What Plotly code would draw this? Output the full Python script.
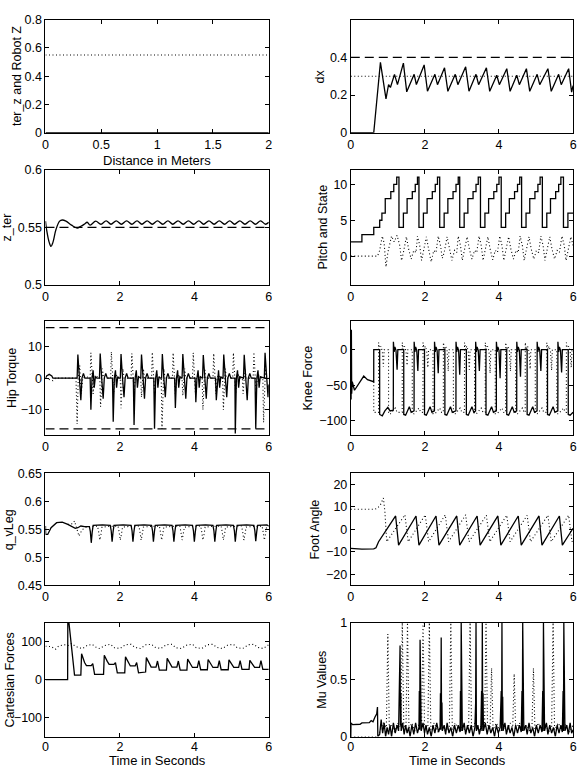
import plotly.graph_objects as go

# ======================= DATA =======================
# Panel 1 : ter_z and Robot Z versus distance
dist_m = [0, 2]
ter_z = [0, 0]
robot_z = [0.55, 0.55]

# Panel 2 : dx
dx_t = [0, 0.62, 0.80, 0.95, 1.02, 1.07, 1.18, 1.26,
        1.42, 1.51, 1.71, 1.77, 1.98, 2.07, 2.27, 2.34,
        2.53, 2.62, 2.82, 2.89, 3.10, 3.19, 3.38, 3.45,
        3.66, 3.75, 3.94, 4.01, 4.21, 4.30, 4.48, 4.55,
        4.74, 4.83, 5.03, 5.10, 5.32, 5.41, 5.61, 5.68,
        5.88, 5.96, 6.0]
dx_v = [0, 0, 0.374, 0.18, 0.256, 0.24, 0.31, 0.255,
        0.37, 0.217, 0.31, 0.256, 0.36, 0.22, 0.31, 0.255,
        0.345, 0.22, 0.31, 0.255, 0.35, 0.22, 0.31, 0.255,
        0.345, 0.22, 0.305, 0.255, 0.34, 0.22, 0.305, 0.255,
        0.34, 0.22, 0.31, 0.255, 0.34, 0.22, 0.31, 0.255,
        0.34, 0.215, 0.25]
dx_line_t = [0, 6]
dx_desired = [0.3, 0.3]
dx_limit = [0.4, 0.4]

# Panel 3 : z_ter
zt_t = [0, 0.03, 0.10, 0.15, 0.20, 0.28, 0.38, 0.45, 0.55, 0.70, 0.85, 0.95,
        1.05, 1.12, 1.20, 1.35, 1.49, 1.63, 1.76, 1.90, 2.04, 2.18, 2.32,
        2.46, 2.59, 2.73, 2.87, 3.01, 3.15, 3.29, 3.42, 3.56, 3.70, 3.84,
        3.98, 4.12, 4.25, 4.39, 4.53, 4.67, 4.81, 4.95, 5.08, 5.22, 5.36,
        5.50, 5.64, 5.78, 5.91, 6.0]
zt_v = [0.5555, 0.548, 0.537, 0.5335, 0.537, 0.548, 0.5555, 0.5565, 0.5555,
        0.552, 0.5495, 0.551, 0.553, 0.5545, 0.552, 0.5555, 0.5528, 0.5557,
        0.5528, 0.5557, 0.5528, 0.5557, 0.5528, 0.5557, 0.5528, 0.5557,
        0.5528, 0.5557, 0.5528, 0.5557, 0.5528, 0.5557, 0.5528, 0.5557,
        0.5528, 0.5557, 0.5528, 0.5557, 0.5528, 0.5557, 0.5528, 0.5557,
        0.5528, 0.5557, 0.5528, 0.5557, 0.5528, 0.5557, 0.5528, 0.5545]
zt_line_t = [0, 6]
zt_ref = [0.55, 0.55]

# Panel 4 : Pitch and State
state_t = [0, 0.30, 0.62, 0.78, 0.84, 0.93, 1.08, 1.16, 1.24,
           1.30, 1.42, 1.52, 1.66, 1.74, 1.80,
           1.84, 1.96, 2.06, 2.20, 2.28, 2.34,
           2.40, 2.52, 2.62, 2.76, 2.84, 2.90,
           2.94, 3.06, 3.16, 3.30, 3.38, 3.44,
           3.50, 3.62, 3.72, 3.86, 3.94, 4.00,
           4.06, 4.18, 4.28, 4.42, 4.50, 4.56,
           4.61, 4.73, 4.83, 4.97, 5.05, 5.11,
           5.17, 5.29, 5.39, 5.53, 5.61, 5.67,
           5.74, 5.86, 6.0]
state_v = [2, 3, 4, 5, 6, 8, 9, 10, 11,
           4, 6, 8, 9, 10, 11,
           4, 6, 8, 9, 10, 11,
           4, 6, 8, 9, 10, 11,
           4, 6, 8, 9, 10, 11,
           4, 6, 8, 9, 10, 11,
           4, 6, 8, 9, 10, 11,
           4, 6, 8, 9, 10, 11,
           4, 6, 8, 9, 10, 11,
           4, 6, 6]
pitch_t = [0, 0.72, 0.78, 0.85, 0.90, 0.95, 1.00, 1.10, 1.17, 1.25,
           1.32, 1.37, 1.42, 1.50, 1.56, 1.63, 1.70, 1.76, 1.80,
           1.86, 1.91, 1.96, 2.04, 2.10, 2.17, 2.24, 2.30, 2.36,
           2.42, 2.47, 2.52, 2.60, 2.66, 2.73, 2.80, 2.86, 2.90,
           2.96, 3.01, 3.06, 3.14, 3.20, 3.27, 3.34, 3.40, 3.46,
           3.52, 3.57, 3.62, 3.70, 3.76, 3.83, 3.90, 3.96, 4.02,
           4.08, 4.13, 4.18, 4.26, 4.32, 4.39, 4.46, 4.52, 4.57,
           4.63, 4.68, 4.73, 4.81, 4.87, 4.94, 5.01, 5.07, 5.13,
           5.19, 5.24, 5.29, 5.37, 5.43, 5.50, 5.57, 5.63, 5.70,
           5.76, 5.81, 5.86, 5.94, 6.0]
pitch_v = [0, 0, 0.8, 2.8, 1.8, -1.5, 0.5, 2.8, 2.0, 2.9,
           1.5, -0.6, 0.5, 2.7, 1.0, -0.4, 0.8, 0.5, 2.8,
           1.5, -0.6, 0.5, 2.7, 1.0, -0.8, 0.8, 0.5, 2.8,
           1.5, -0.3, 0.5, 2.7, 1.0, -0.6, 0.8, 0.5, 2.8,
           1.5, -0.6, 0.5, 2.7, 1.0, -0.4, 0.8, 0.5, 2.8,
           1.5, -0.6, 0.5, 2.7, 1.0, -0.5, 0.8, 0.5, 2.8,
           1.5, -0.6, 0.5, 2.7, 1.0, -0.4, 0.8, 0.5, 2.8,
           1.5, -0.6, 0.5, 2.7, 1.0, -0.4, 0.8, 0.5, 2.8,
           1.5, -0.6, 0.5, 2.7, 1.0, -0.4, 0.8, 0.5, 2.8,
           1.5, -0.6, 0.5, 2.7, 1.5]

# Panel 5 : Hip Torque
hip_s_t = [0, 0.03, 0.10, 0.17, 0.20, 0.85,
           0.87, 0.91, 0.95, 0.98, 1.02, 1.06, 1.20, 1.22, 1.25, 1.28, 1.31, 1.34, 1.38,
           1.45, 1.47, 1.51, 1.55, 1.58, 1.62, 1.66, 1.80, 1.82, 1.85, 1.88, 1.91, 1.94, 1.98,
           2.01, 2.03, 2.07, 2.11, 2.14, 2.18, 2.22, 2.36, 2.38, 2.41, 2.44, 2.47, 2.50, 2.54,
           2.56, 2.58, 2.62, 2.66, 2.69, 2.73, 2.77, 2.91, 2.93, 2.96, 2.99, 3.02, 3.05, 3.09,
           3.12, 3.14, 3.18, 3.22, 3.25, 3.29, 3.33, 3.47, 3.49, 3.52, 3.55, 3.58, 3.61, 3.65,
           3.67, 3.69, 3.73, 3.77, 3.80, 3.84, 3.88, 4.02, 4.04, 4.07, 4.10, 4.13, 4.16, 4.20,
           4.22, 4.24, 4.28, 4.32, 4.35, 4.39, 4.43, 4.57, 4.59, 4.62, 4.65, 4.68, 4.71, 4.75,
           4.77, 4.79, 4.83, 4.87, 4.90, 4.94, 4.98, 5.09, 5.10, 5.13, 5.16, 5.19, 5.22, 5.30,
           5.32, 5.34, 5.38, 5.42, 5.45, 5.49, 5.53, 5.63, 5.65, 5.68, 5.71, 5.74, 5.77, 5.86,
           5.88, 5.90, 5.94, 5.98, 6.0]
hip_s_v = [0, 0.7, 1.2, 0.7, 0, 0,
           7.5, 0, -7, 0, 1.5, 0, 0, -10, 0, 2.5, -3, 0.5, 0,
           0, 7.8, 0, -6.5, 0, 1.5, 0, 0, -13.8, 0, 2.5, -3, 0.5, 0,
           0, 7.6, 0, -6, 0, 1.5, 0, 0, -14.8, 0, 2.5, -3, 0.5, 0,
           0, 7.5, 0, -6.5, 0, 1.5, 0, 0, -16, 0, 2.5, -3, 0.5, 0,
           0, 7.6, 0, -6, 0, 1.5, 0, 0, -9.4, 0, 2.5, -3, 0.5, 0,
           0, 7.6, 0, -6.5, 0, 1.5, 0, 0, -7.6, 0, 2.5, -3, 0.5, 0,
           0, 7.3, 0, -6.5, 0, 1.5, 0, 0, -7, 0, 2.5, -3, 0.5, 0,
           0, 7.5, 0, -6, 0, 1.5, 0, 0, -17.5, 0, 2.5, -3, 0.5, 0,
           0, 7.4, 0, -7, 0, 1.5, 0, 0, -16, 0, 2.5, -3, 0.5, 0,
           0, 8.0, 0, -6, -2]
hip_d_t = [0, 0.10, 0.20, 0.27, 0.82, 0.85, 0.88, 0.92, 0.96, 1.00, 1.08,
           1.20, 1.22, 1.25, 1.28, 1.31, 1.35, 1.42, 1.46, 1.48, 1.51, 1.53, 1.56,
           1.75, 1.77, 1.80, 1.83, 1.86, 1.90, 1.97, 2.01, 2.03, 2.06, 2.08, 2.11,
           2.30, 2.32, 2.35, 2.38, 2.41, 2.45, 2.52, 2.56, 2.58, 2.61, 2.63, 2.66,
           2.85, 2.87, 2.90, 2.93, 2.96, 3.00, 3.07, 3.11, 3.13, 3.16, 3.18, 3.21,
           3.41, 3.43, 3.46, 3.49, 3.52, 3.56, 3.63, 3.67, 3.69, 3.72, 3.74, 3.77,
           3.95, 3.97, 4.00, 4.03, 4.06, 4.10, 4.17, 4.21, 4.23, 4.26, 4.28, 4.31,
           4.50, 4.52, 4.55, 4.58, 4.61, 4.65, 4.72, 4.76, 4.78, 4.81, 4.83, 4.86,
           5.03, 5.05, 5.08, 5.11, 5.14, 5.18, 5.25, 5.29, 5.31, 5.34, 5.36, 5.39,
           5.58, 5.60, 5.63, 5.66, 5.69, 5.73, 5.80, 5.84, 5.86, 5.89, 5.91, 5.94, 6.0]
hip_d_v = [0, -0.3, -0.8, 0, 0, -14.5, 0, 4, -5, 0, 0.5,
           0, 8, 2, -5, 0, 1, 0, 0, -9, 0, 3, 0,
           0, 8.3, 2, -5, 0, 1, 0, 0, -9.5, 0, 3, 0,
           0, 7.8, 2, -5, 0, 1, 0, 0, -6, 0, 3, 0,
           0, 8.2, 2, -5, 0, 1, 0, 0, -16, 0, 3, 0,
           0, 8, 2, -5, 0, 1, 0, 0, -5.5, 0, 3, 0,
           0, 8, 2, -5, 0, 1, 0, 0, -10, 0, 3, 0,
           0, 7.8, 2, -5, 0, 1, 0, 0, -10, 0, 3, 0,
           0, 8, 2, -5, 0, 1, 0, 0, -5, 0, 3, 0,
           0, 8.2, 2, -5, 0, 1, 0, 0, -14, 0, 3, 0, 0]
hip_line_t = [0, 6]
hip_upper = [16, 16]
hip_lower = [-16, -16]

# Panel 6 : Knee Force
knee_s_t = [0, 0.008, 0.016, 0.024, 0.04, 0.10, 0.35, 0.45, 0.619, 0.62, 0.779, 0.78,
            0.85, 0.92, 1.00, 1.06, 1.148,
            1.15, 1.17, 1.19, 1.22, 1.25, 1.27, 1.429, 1.43, 1.48, 1.58, 1.63, 1.708,
            1.71, 1.73, 1.75, 1.78, 1.81, 1.83, 1.989, 1.99, 2.04, 2.14, 2.19, 2.258,
            2.26, 2.28, 2.30, 2.33, 2.36, 2.38, 2.539, 2.54, 2.59, 2.69, 2.74, 2.838,
            2.84, 2.86, 2.88, 2.91, 2.94, 2.96, 3.119, 3.12, 3.17, 3.27, 3.32, 3.368,
            3.37, 3.39, 3.41, 3.44, 3.47, 3.49, 3.649, 3.65, 3.70, 3.80, 3.85, 3.928,
            3.93, 3.95, 3.97, 4.00, 4.03, 4.05, 4.209, 4.21, 4.26, 4.36, 4.41, 4.478,
            4.48, 4.50, 4.52, 4.55, 4.58, 4.60, 4.759, 4.76, 4.81, 4.91, 4.96, 5.028,
            5.03, 5.05, 5.07, 5.10, 5.13, 5.15, 5.309, 5.31, 5.36, 5.46, 5.51, 5.588,
            5.59, 5.61, 5.63, 5.66, 5.69, 5.71, 5.869, 5.87, 5.92, 6.0]
knee_s_v = [25, -70, 28, -62, -45, -57, -37, -42, -45, 0, 0, -91,
            -93, -86, -81, -86, -85,
            11, -3, 4, -1, -28, 0, 0, -91, -92, -80, -88, -86,
            11, -3, 4, -1, -30, 0, 0, -91, -92, -80, -88, -86,
            11, -3, 4, -1, -33, 0, 0, -91, -92, -80, -88, -86,
            11, -3, 4, -1, -35, 0, 0, -91, -92, -80, -88, -86,
            11, -3, 4, -1, -30, 0, 0, -91, -92, -80, -88, -86,
            11, -3, 4, -1, -40, 0, 0, -91, -92, -80, -88, -86,
            11, -3, 4, -1, -38, 0, 0, -91, -92, -80, -88, -86,
            11, -3, 4, -1, -30, 0, 0, -91, -92, -80, -88, -86,
            11, -3, 4, -1, -32, 0, 0, -91, -92, -88]
knee_d_t = [0.619, 0.62, 0.749,
            0.75, 0.78, 0.81, 0.85, 0.88, 0.90, 1.019, 1.02, 1.07, 1.20, 1.25, 1.388,
            1.39, 1.42, 1.45, 1.49, 1.52, 1.54, 1.659, 1.66, 1.71, 1.84, 1.89, 1.948,
            1.95, 1.98, 2.01, 2.05, 2.08, 2.10, 2.219, 2.22, 2.27, 2.40, 2.45, 2.498,
            2.50, 2.53, 2.56, 2.60, 2.63, 2.65, 2.769, 2.77, 2.82, 2.95, 3.00, 3.068,
            3.07, 3.10, 3.13, 3.17, 3.20, 3.22, 3.339, 3.34, 3.39, 3.52, 3.57, 3.628,
            3.63, 3.66, 3.69, 3.73, 3.76, 3.78, 3.899, 3.90, 3.95, 4.08, 4.13, 4.178,
            4.18, 4.21, 4.24, 4.28, 4.31, 4.33, 4.449, 4.45, 4.50, 4.63, 4.68, 4.708,
            4.71, 4.74, 4.77, 4.81, 4.84, 4.86, 4.979, 4.98, 5.03, 5.16, 5.21, 5.288,
            5.29, 5.32, 5.35, 5.39, 5.42, 5.44, 5.559, 5.56, 5.61, 5.74, 5.79, 5.818,
            5.82, 5.85, 5.88, 5.92, 5.95, 5.97, 6.0]
knee_d_v = [-45, -88, -88,
            10, 0, 5, -2, -24, 0, 0, -90, -90, -82, -88, -88,
            10, 0, 5, -2, -22, 0, 0, -90, -90, -82, -88, -88,
            10, 0, 5, -2, -25, 0, 0, -90, -90, -82, -88, -88,
            10, 0, 5, -2, -30, 0, 0, -90, -90, -82, -88, -88,
            10, 0, 5, -2, -28, 0, 0, -90, -90, -82, -88, -88,
            10, 0, 5, -2, -33, 0, 0, -90, -90, -82, -88, -88,
            10, 0, 5, -2, -30, 0, 0, -90, -90, -82, -88, -88,
            10, 0, 5, -2, -27, 0, 0, -90, -90, -82, -88, -88,
            10, 0, 5, -2, -29, 0, 0, -90, -90, -82, -88, -88,
            10, 0, 5, -2, -25, 0, 0]

# Panel 7 : q_vLeg
qv_s_t = [0, 0.005, 0.06, 0.15, 0.30, 0.45, 0.60, 0.70, 0.80, 0.87, 0.95, 1.05, 1.15,
          1.18, 1.205, 1.23, 1.255, 1.28, 1.53,
          1.74, 1.765, 1.79, 1.815, 1.84, 2.09,
          2.30, 2.325, 2.35, 2.375, 2.40, 2.65,
          2.85, 2.875, 2.90, 2.925, 2.95, 3.20,
          3.40, 3.425, 3.45, 3.475, 3.50, 3.75,
          3.95, 3.975, 4.00, 4.025, 4.05, 4.30,
          4.50, 4.525, 4.55, 4.575, 4.60, 4.85,
          5.05, 5.075, 5.10, 5.125, 5.15, 5.40,
          5.60, 5.625, 5.65, 5.675, 5.70, 5.95, 6.0]
qv_s_v = [0.556, 0.541, 0.541, 0.553, 0.562, 0.563, 0.559, 0.556, 0.552, 0.553, 0.556, 0.555, 0.555,
          0.555, 0.546, 0.526, 0.545, 0.557, 0.558,
          0.557, 0.548, 0.528, 0.545, 0.557, 0.558,
          0.557, 0.548, 0.528, 0.545, 0.557, 0.558,
          0.557, 0.548, 0.528, 0.545, 0.557, 0.558,
          0.557, 0.548, 0.528, 0.545, 0.557, 0.558,
          0.557, 0.548, 0.528, 0.545, 0.557, 0.558,
          0.557, 0.548, 0.528, 0.545, 0.557, 0.558,
          0.557, 0.548, 0.528, 0.545, 0.557, 0.558,
          0.557, 0.548, 0.529, 0.545, 0.557, 0.558, 0.556]
qv_d_t = [0.60, 0.72, 0.78, 0.84, 0.90, 0.95, 1.00, 1.10, 1.35,
          1.40, 1.43, 1.46, 1.49, 1.52, 1.66,
          1.95, 1.98, 2.01, 2.04, 2.07, 2.21,
          2.51, 2.54, 2.57, 2.60, 2.63, 2.77,
          3.06, 3.09, 3.12, 3.15, 3.18, 3.32,
          3.61, 3.64, 3.67, 3.70, 3.73, 3.87,
          4.17, 4.20, 4.23, 4.26, 4.29, 4.43,
          4.72, 4.75, 4.78, 4.81, 4.84, 4.98,
          5.27, 5.30, 5.33, 5.36, 5.39, 5.53,
          5.82, 5.85, 5.88, 5.91, 5.94, 6.0]
qv_d_v = [0.559, 0.560, 0.565, 0.550, 0.538, 0.545, 0.550, 0.554, 0.555,
          0.556, 0.545, 0.531, 0.541, 0.554, 0.555,
          0.556, 0.545, 0.531, 0.541, 0.554, 0.555,
          0.556, 0.545, 0.531, 0.541, 0.554, 0.555,
          0.556, 0.545, 0.531, 0.541, 0.554, 0.555,
          0.556, 0.545, 0.531, 0.541, 0.554, 0.555,
          0.556, 0.545, 0.531, 0.541, 0.554, 0.555,
          0.556, 0.545, 0.531, 0.541, 0.554, 0.555,
          0.556, 0.545, 0.531, 0.541, 0.554, 0.555,
          0.556, 0.545, 0.531, 0.541, 0.554, 0.555]

# Panel 8 : Foot Angle
foot_s_t = [0, 0.30, 0.62, 0.68, 0.75, 0.90, 1.05, 1.21, 1.29, 1.76, 1.84, 2.30, 2.38,
            2.86, 2.94, 3.41, 3.49, 3.97, 4.05, 4.52, 4.60, 5.08, 5.16, 5.63, 5.71, 6.0]
foot_s_v = [-8.5, -8.8, -8.7, -8.2, -5.5, -2, 2, 6, -7, 6, -7, 6, -7,
            6, -7, 6, -7, 6, -7, 6, -7, 6, -7, 6, -7, 0.5]
foot_d_t = [0, 0.30, 0.65, 0.72, 0.80, 0.88, 0.92, 0.97, 1.46, 1.55, 2.01, 2.10, 2.55,
            2.64, 3.10, 3.19, 3.66, 3.75, 4.21, 4.30, 4.76, 4.85, 5.32, 5.41, 5.88, 5.97, 6.0]
foot_d_v = [9, 9, 9, 9.5, 11, 14, 8, -5.5, 6.5, -5.5, 6.5, -5.5, 6.5,
            -5.5, 6.5, -5.5, 6.3, -5.5, 6.3, -5.5, 6.3, -5.5, 6.3, -5.5, 6.3, -5.5, -5]

# Panel 9 : Cartesian Forces
cf_s_t = [0, 0.595, 0.60, 0.63, 0.78, 0.95,
          0.97, 1.05, 1.10, 1.23, 1.27, 1.32, 1.56,
          1.58, 1.66, 1.71, 1.84, 1.88, 1.93, 2.13,
          2.15, 2.23, 2.28, 2.41, 2.45, 2.50, 2.69,
          2.71, 2.79, 2.84, 2.97, 3.01, 3.06, 3.25,
          3.27, 3.35, 3.40, 3.53, 3.57, 3.62, 3.80,
          3.82, 3.90, 3.95, 4.08, 4.12, 4.17, 4.35,
          4.37, 4.45, 4.50, 4.63, 4.67, 4.72, 4.91,
          4.93, 5.01, 5.06, 5.19, 5.23, 5.28, 5.47,
          5.49, 5.57, 5.62, 5.75, 5.79, 5.84, 6.0]
cf_s_v = [0, 0, 150, 150, 12, 12,
          68, 45, 37, 37, 42, 14, 14,
          64, 48, 40, 40, 45, 18, 18,
          60, 44, 36, 36, 45, 18, 20,
          58, 41, 33, 33, 49, 25, 25,
          56, 41, 33, 33, 49, 25, 25,
          54, 40, 32, 32, 50, 26, 26,
          53, 40, 32, 32, 50, 26, 26,
          52, 40, 32, 32, 50, 27, 27,
          51, 39, 32, 32, 50, 27, 27]
cf_d_t = [0, 0.15, 0.27, 0.35, 0.50, 0.62, 0.70, 0.80, 0.90, 1.00, 1.12, 1.25,
          1.35, 1.45, 1.60, 1.75, 1.85, 2.00, 2.15, 2.30, 2.40, 2.55, 2.70, 2.85,
          2.95, 3.10, 3.25, 3.40, 3.50, 3.65, 3.80, 3.95, 4.05, 4.20, 4.35, 4.50,
          4.60, 4.75, 4.90, 5.05, 5.15, 5.30, 5.45, 5.60, 5.70, 5.85, 6.0]
cf_d_v = [88, 87, 80, 88, 92, 90, 95, 88, 84, 82, 90, 93,
          86, 82, 90, 93, 84, 82, 92, 93, 85, 82, 92, 93,
          85, 82, 92, 93, 84, 82, 91, 93, 84, 82, 92, 93,
          85, 82, 91, 93, 84, 82, 92, 93, 85, 82, 92]

# Panel 10 : Mu Values
mu_s_t = [0, 0.005, 0.05, 0.25, 0.30, 0.50, 0.55, 0.60, 0.65, 0.70, 0.72, 0.73,
          0.78, 0.82, 0.86, 0.90, 0.94, 0.98, 1.02, 1.06, 1.10, 1.15, 1.20, 1.25, 1.29,
          1.30, 1.31, 1.32, 1.33, 1.34, 1.35, 1.36,
          1.40, 1.44, 1.48, 1.52, 1.56, 1.60, 1.65, 1.70, 1.75, 1.80, 1.84,
          1.85, 1.86, 1.87, 1.88, 1.89, 1.90,
          1.95, 1.99, 2.03, 2.07, 2.12, 2.17, 2.22, 2.27, 2.32, 2.37, 2.41,
          2.42, 2.43, 2.44, 2.45, 2.46, 2.47,
          2.52, 2.56, 2.60, 2.65, 2.70, 2.75, 2.80, 2.85, 2.90, 2.95,
          2.96, 2.97, 2.98, 2.99, 3.00, 3.01,
          3.06, 3.10, 3.15, 3.20, 3.25, 3.30, 3.35,
          3.37, 3.38, 3.39,
          3.43, 3.47, 3.51,
          3.53, 3.54, 3.55, 3.56, 3.57, 3.58,
          3.63, 3.68, 3.73, 3.78, 3.83, 3.88, 3.93, 3.98, 4.03,
          4.06, 4.07, 4.08, 4.09, 4.10, 4.11,
          4.16, 4.20, 4.25, 4.30, 4.35, 4.40, 4.45, 4.50, 4.55, 4.60,
          4.62, 4.63, 4.64, 4.65, 4.66, 4.67,
          4.72, 4.76, 4.81, 4.86, 4.91, 4.96, 5.01, 5.06, 5.11, 5.16,
          5.18, 5.19, 5.20, 5.21, 5.22, 5.23,
          5.28, 5.32, 5.37, 5.42, 5.47, 5.52, 5.57, 5.62, 5.67, 5.71,
          5.73, 5.74, 5.75, 5.76, 5.77, 5.78,
          5.83, 5.87, 5.92, 5.96, 6.0]
mu_s_v = [0, 0.12, 0.105, 0.108, 0.12, 0.122, 0.14, 0.13, 0.17, 0.20, 0.26, 0.0,
          0.02, 0.15, 0.03, 0.12, 0.0, 0.08, 0.02, 0.10, 0.0, 0.12, 0.03, 0.10, 0.05,
          0.42, 0.05, 0.45, 0.80, 0.10, 0.38, 0.05,
          0.12, 0.02, 0.10, 0.03, 0.08, 0.0, 0.10, 0.02, 0.12, 0.03, 0.08,
          0.40, 0.06, 0.85, 0.10, 0.35, 0.05,
          0.12, 0.03, 0.10, 0.02, 0.08, 0.0, 0.10, 0.03, 0.12, 0.04, 0.08,
          0.38, 0.06, 0.87, 0.10, 0.30, 0.05,
          0.10, 0.02, 0.12, 0.03, 0.08, 0.0, 0.10, 0.03, 0.10, 0.04,
          0.40, 0.05, 1.0, 0.08, 0.35, 0.05,
          0.12, 0.02, 0.10, 0.03, 0.10, 0.0, 0.08,
          0.30, 1.0, 0.05,
          0.10, 0.02, 0.08,
          0.40, 0.05, 1.0, 0.10, 0.38, 0.05,
          0.12, 0.02, 0.10, 0.03, 0.08, 0.0, 0.10, 0.03, 0.08,
          0.40, 0.05, 1.0, 0.10, 0.35, 0.05,
          0.12, 0.02, 0.10, 0.03, 0.08, 0.0, 0.10, 0.03, 0.10, 0.04,
          0.40, 0.05, 1.0, 0.10, 0.30, 0.05,
          0.10, 0.02, 0.12, 0.03, 0.08, 0.0, 0.10, 0.03, 0.10, 0.04,
          0.40, 0.05, 1.0, 0.10, 0.35, 0.05,
          0.12, 0.02, 0.10, 0.03, 0.08, 0.0, 0.10, 0.03, 0.10, 0.04,
          0.40, 0.05, 1.0, 0.10, 0.30, 0.05,
          0.10, 0.02, 0.12, 0.03, 0.06]
mu_d_t = [0, 0.74, 0.80, 0.88, 0.96, 1.00, 1.04, 1.10, 1.18, 1.26, 1.35, 1.39, 1.43,
          1.49, 1.53, 1.57, 1.65, 1.73, 1.82, 1.91, 1.95, 1.99, 2.08, 2.12, 2.16,
          2.25, 2.35, 2.45, 2.55, 2.66, 2.70, 2.74, 2.82, 2.92, 3.02, 3.10, 3.18,
          3.22, 3.26, 3.35, 3.45, 3.52, 3.61, 3.65, 3.69, 3.76, 3.80, 3.84, 3.93,
          4.02, 4.12, 4.22, 4.30, 4.37, 4.41, 4.45, 4.55, 4.65, 4.75, 4.84, 4.89,
          4.93, 4.97, 5.06, 5.16, 5.26, 5.36, 5.42, 5.46, 5.50, 5.60, 5.70, 5.80,
          5.90, 6.0]
mu_d_v = [0, 0, 0.06, 0.12, 0.08, 0.9, 0.06, 0.10, 0.04, 0.12, 0.08, 1.0, 0.10,
          0.08, 1.0, 0.07, 0.12, 0.05, 0.10, 0.08, 1.0, 0.10, 0.08, 1.0, 0.06,
          0.12, 0.04, 0.10, 0.05, 0.08, 1.0, 0.06, 0.12, 0.05, 0.10, 0.04, 0.08,
          1.0, 0.06, 0.12, 0.05, 0.10, 0.08, 1.0, 0.10, 0.08, 0.6, 0.06, 0.12,
          0.05, 0.10, 0.04, 0.12, 0.08, 0.55, 0.06, 0.12, 0.05, 0.10, 0.04, 0.08,
          0.6, 0.06, 0.12, 0.05, 0.10, 0.04, 0.08, 1.0, 0.06, 0.12, 0.05, 0.10,
          0.04, 0.10]

# Axis ranges and tick labels
x_ticks_dist = [0, 0.5, 1, 1.5, 2]
x_ticks_time = [0, 2, 4, 6]
panel_titles = ["ter_z and Robot Z", "dx", "z_ter", "Pitch and State", "Hip Torque",
                "Knee Force", "q_vLeg", "Foot Angle", "Cartesian Forces", "Mu Values"]
y_ranges = [[0, 0.8], [0, 0.6], [0.5, 0.6], [-4, 12], [-18, 18],
            [-120, 40], [0.45, 0.65], [-25, 25], [-150, 150], [0, 1]]
y_ticks = [[0, 0.2, 0.4, 0.6, 0.8], [0, 0.2, 0.4], [0.5, 0.55, 0.6], [0, 5, 10],
           [-10, 0, 10], [-100, -50, 0], [0.45, 0.5, 0.55, 0.6, 0.65],
           [-20, -10, 0, 10, 20], [-100, 0, 100], [0, 0.5, 1]]
y_ticktext = [["0", "0.2", "0.4", "0.6", "0.8"], ["0", "0.2", "0.4"], ["0.5", "0.55", "0.6"],
              ["0", "5", "10"], ["\u221210", "0", "10"], ["\u2212100", "\u221250", "0"],
              ["0.45", "0.5", "0.55", "0.6", "0.65"],
              ["\u221220", "\u221210", "0", "10", "20"], ["\u2212100", "0", "100"],
              ["0", "0.5", "1"]]

# ======================= FIGURE =======================
FIG_W, FIG_H = 585, 775
col_px = [(43, 269), (352, 577)]
row_px = [(13, 128), (166, 283), (320, 436), (475, 589), (627, 743)]
ylabel_x_px = [14, 321, 5, 324, 9, 309, 6, 316, 7, 322]

FONT = "Liberation Sans, Arial, Helvetica, sans-serif"
SOLID = dict(color="black", width=1.3)
DOT = dict(color="black", width=1.1, dash="1px,2.5px")
DASH = dict(color="black", width=1.2, dash="9px,5px")

fig = go.Figure()


def add(i, x, y, line, shape="linear"):
    sfx = "" if i == 1 else str(i)
    fig.add_trace(go.Scatter(x=x, y=y, mode="lines", line=dict(line, shape=shape),
                             xaxis="x" + sfx, yaxis="y" + sfx, hoverinfo="skip",
                             showlegend=False))


add(1, dist_m, ter_z, SOLID)
add(1, dist_m, robot_z, DOT)
add(2, dx_line_t, dx_limit, DASH)
add(2, dx_line_t, dx_desired, DOT)
add(2, dx_t, dx_v, SOLID)
add(3, zt_line_t, zt_ref, DASH)
add(3, zt_t, zt_v, SOLID, "spline")
add(4, pitch_t, pitch_v, DOT)
add(4, state_t, state_v, SOLID, "hv")
add(5, hip_line_t, hip_upper, DASH)
add(5, hip_line_t, hip_lower, DASH)
add(5, hip_d_t, hip_d_v, DOT)
add(5, hip_s_t, hip_s_v, SOLID)
add(6, knee_d_t, knee_d_v, DOT)
add(6, knee_s_t, knee_s_v, SOLID)
add(7, qv_d_t, qv_d_v, DOT)
add(7, qv_s_t, qv_s_v, SOLID)
add(8, foot_d_t, foot_d_v, DOT)
add(8, foot_s_t, foot_s_v, SOLID)
add(9, cf_d_t, cf_d_v, DOT)
add(9, cf_s_t, cf_s_v, SOLID)
add(10, mu_d_t, mu_d_v, DOT)
add(10, mu_s_t, mu_s_v, SOLID)

axis_common = dict(showline=True, linecolor="black", linewidth=1, mirror="ticks",
                   ticks="inside", ticklen=4, tickwidth=1, tickcolor="black",
                   showgrid=False, zeroline=False,
                   tickfont=dict(family=FONT, size=12.5, color="black"))

layout = dict(width=FIG_W, height=FIG_H, margin=dict(l=0, r=0, t=0, b=0),
              paper_bgcolor="white", plot_bgcolor="white", showlegend=False)
annotations = []
for i in range(10):
    r, c = divmod(i, 2)
    x0, x1 = col_px[c]
    top, bot = row_px[r]
    sfx = "" if i == 0 else str(i + 1)
    xd = [x0 / FIG_W, x1 / FIG_W]
    yd = [1 - bot / FIG_H, 1 - top / FIG_H]
    if i == 0:
        xr, xt = [0, 2], x_ticks_dist
    else:
        xr, xt = [0, 6], x_ticks_time
    xa = dict(axis_common, domain=xd, range=xr, tickvals=xt, anchor="y" + sfx)
    if r == 4:
        xa["ticklabelstandoff"] = -2
    layout["xaxis" + sfx] = xa
    layout["yaxis" + sfx] = dict(axis_common, domain=yd, range=y_ranges[i],
                                 tickvals=y_ticks[i], ticktext=y_ticktext[i],
                                 anchor="x" + sfx)
    annotations.append(dict(text=panel_titles[i], xref="paper", yref="paper",
                            x=ylabel_x_px[i] / FIG_W, y=1 - (top + bot) / 2 / FIG_H,
                            textangle=-90, showarrow=False, xanchor="center",
                            yanchor="middle",
                            font=dict(family=FONT, size=12.5, color="black")))

annotations.append(dict(text="Distance in Meters", xref="paper", yref="paper",
                        x=156 / FIG_W, y=1 - 156 / FIG_H, showarrow=False,
                        xanchor="center", yanchor="middle",
                        font=dict(family=FONT, size=13, color="black")))
annotations.append(dict(text="Time in Seconds", xref="paper", yref="paper",
                        x=156 / FIG_W, y=1 - 767.5 / FIG_H, showarrow=False,
                        xanchor="center", yanchor="middle",
                        font=dict(family=FONT, size=13, color="black")))
annotations.append(dict(text="Time in Seconds", xref="paper", yref="paper",
                        x=460 / FIG_W, y=1 - 767.5 / FIG_H, showarrow=False,
                        xanchor="center", yanchor="middle",
                        font=dict(family=FONT, size=13, color="black")))
layout["annotations"] = annotations
fig.update_layout(layout)
fig.write_html("out.html")
